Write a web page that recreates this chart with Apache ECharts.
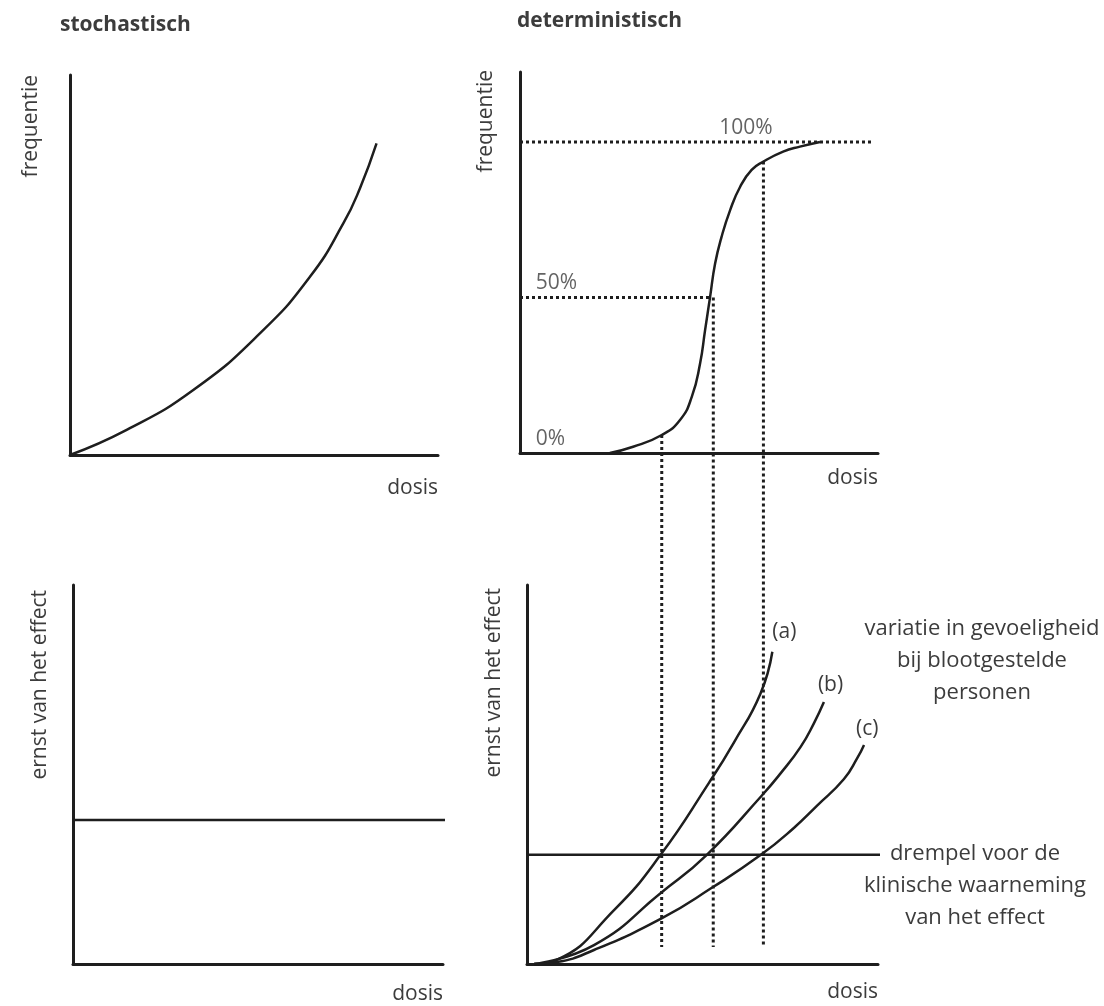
<!DOCTYPE html>
<html lang="nl">
<head>
<meta charset="UTF-8" />
<title>Dosis-effectrelaties</title>
<script src="https://cdn.jsdelivr.net/npm/echarts@6/dist/echarts.min.js"></script>
<style>
  html, body { margin: 0; padding: 0; background: #fff; }
  #chart { width: 1104px; height: 1006px; }
</style>
</head>
<body>
<div id="chart"></div>
<script>
// stochastisch effect: frequentie stijgt met de dosis
var stochDosis = [0, 15.4, 33.5, 51.6, 65.2, 74.3, 78.8, 83.3];
var stochFreq = [0, 6.6, 17.1, 32.0, 46.9, 61.0, 70.2, 82.0];

// deterministisch effect: S-curve (frequentie in %)
var detDosis = [25.1, 31.6, 39.6, 44.7, 48.0, 50.3, 51.7, 53.1, 54.5, 56.3, 58.7, 61.5, 64.7, 68.0, 73.5, 78.2, 83.8];
var detFreq = [0, 2.0, 5.8, 10.6, 18.1, 28.8, 39.5, 50.2, 60.9, 69.5, 78.1, 85.6, 91.0, 93.7, 96.9, 98.5, 100];

var pctWaarden = [0, 50, 100];
var pctLabels = ['0%', '50%', '100%'];
var pctEinde = [null, 53, 98.6];    // waar de stippellijn ophoudt

// dosis waarbij (a), (b) en (c) de drempel halen
var drempelDosis = [39.6, 54.0, 68.0];
var drempelFreq = [5.8, 50, 93.7];
var stippelOnder = 4.5;             // ernst waar de stippellijnen eindigen

// drempel voor de klinische waarneming
var drempelStoch = 38;
var drempelDet = 28.8;

// ernst van het effect voor drie personen
var curveNamen = ['(a)', '(b)', '(c)'];
var dosisA = [4, 10.3, 26.3, 39.3, 52.8, 59.8, 67.2, 70.5];
var ernstA = [0, 1.1, 14.2, 28.8, 47.8, 58.5, 71.4, 82.4];
var dosisB = [4, 20.7, 39.7, 52.2, 67.7, 72.8, 78.4, 82.1, 84.9];
var ernstB = [0, 5.0, 19.0, 28.8, 44.6, 50.3, 57.3, 63.5, 69.1];
var dosisC = [4, 10.3, 20.7, 39.7, 53.6, 67.3, 76.5, 83.0, 90.5, 94.2, 96.1];
var ernstC = [0, 0.5, 3.7, 12.1, 20.1, 28.8, 35.9, 41.8, 48.8, 54.3, 57.8];

var FONT = '"Open Sans", "DejaVu Sans", sans-serif';
var TEXT = '#3c3c3c';
var INK = '#1e1e1e';

function zip(xs, ys) {
    return xs.map(function (x, i) { return [x, ys[i]]; });
}

function xAs(grid, min, max, pad) {
    return {
        type: 'value', gridIndex: grid, min: min, max: max,
        axisLine: { onZero: false, lineStyle: { color: INK, width: 3 } },
        axisTick: { show: false }, axisLabel: { show: false }, splitLine: { show: false },
        name: 'dosis', nameLocation: 'end', nameGap: 0,
        nameTextStyle: { align: 'right', verticalAlign: 'top', padding: [pad, 0, 0, 0],
            fontSize: 21, color: TEXT, fontFamily: FONT }
    };
}

function yAs(grid, max, name, gap, shift) {
    return {
        type: 'value', gridIndex: grid, min: 0, max: max,
        axisLine: { onZero: false, lineStyle: { color: INK, width: 3 } },
        axisTick: { show: false }, axisLabel: { show: false }, splitLine: { show: false },
        name: name, nameLocation: 'end', nameGap: shift, nameRotate: 90,
        nameTextStyle: { align: 'right', verticalAlign: 'bottom', padding: [0, 0, gap, 0],
            fontSize: 21, color: TEXT, fontFamily: FONT }
    };
}

var hidden = { type: 'value', gridIndex: 4, min: 0, max: 100, show: false };
var dotted = { color: INK, width: 3, type: [3, 3] };
var curve = { color: INK, width: 2.5 };

var chart = echarts.init(document.getElementById('chart'));

var series = [
    { type: 'line', xAxisIndex: 0, yAxisIndex: 0, data: zip(stochDosis, stochFreq),
      smooth: 0.5, symbol: 'none', lineStyle: curve },

    { type: 'line', xAxisIndex: 1, yAxisIndex: 1, data: zip(detDosis, detFreq),
      smooth: 0.5, symbol: 'none', lineStyle: curve },
    { type: 'line', xAxisIndex: 1, yAxisIndex: 1, data: [[0, pctWaarden[1]], [pctEinde[1], pctWaarden[1]]],
      symbol: 'none', lineStyle: dotted },
    { type: 'line', xAxisIndex: 1, yAxisIndex: 1, data: [[0, pctWaarden[2]], [pctEinde[2], pctWaarden[2]]],
      symbol: 'none', lineStyle: dotted },
    { type: 'scatter', xAxisIndex: 1, yAxisIndex: 1, symbolSize: 1, silent: true,
      itemStyle: { color: 'rgba(0,0,0,0)' },
      data: pctWaarden.map(function (v, i) {
          return { value: [[3.4, 3.4, 54.7][i], v], name: pctLabels[i] };
      }),
      label: { show: true, position: 'insideBottomLeft', distance: 4, formatter: '{b}',
               fontSize: 21, color: TEXT, fontFamily: FONT } },

    { type: 'line', xAxisIndex: 2, yAxisIndex: 2, data: [[0, drempelStoch], [101, drempelStoch]],
      clip: false, symbol: 'none', lineStyle: curve },

    { type: 'line', xAxisIndex: 3, yAxisIndex: 3, data: [[2, drempelDet], [101, drempelDet]],
      clip: false, symbol: 'none', lineStyle: curve }
];

[[dosisA, ernstA, [0, -20]], [dosisB, ernstB, [-6, -17]], [dosisC, ernstC, [-8, -16]]].forEach(function (c, i) {
    series.push({
        type: 'line', xAxisIndex: 3, yAxisIndex: 3, data: zip(c[0], c[1]),
        smooth: 0.5, symbol: 'none', lineStyle: curve,
        endLabel: { show: true, formatter: curveNamen[i], distance: 0, offset: c[2],
                    fontSize: 21, color: TEXT, fontFamily: FONT }
    });
});

var option = {
    backgroundColor: '#fff',
    animation: false,
    title: [
        { text: 'stochastisch', left: 60, top: 15, padding: 0,
          textStyle: { fontSize: 21, fontWeight: 'bold', color: TEXT, fontFamily: FONT } },
        { text: 'deterministisch', left: 517, top: 11, padding: 0,
          textStyle: { fontSize: 21, fontWeight: 'bold', color: TEXT, fontFamily: FONT } }
    ],
    grid: [
        { left: 70, top: 75, width: 368, height: 380 },
        { left: 520, top: 72, width: 358, height: 381 },
        { left: 73, top: 585, width: 370, height: 379 },
        { left: 527, top: 585, width: 351, height: 379 },
        // onzichtbaar raster over de hele rechterkolom, voor de verticale stippellijnen
        { left: 520, top: 72, width: 358, height: 892 }
    ],
    xAxis: [xAs(0, 0, 100, 23), xAs(1, 0, 100, 15), xAs(2, 0, 100, 20), xAs(3, 2, 100, 18), hidden],
    yAxis: [
        yAs(0, 100, 'frequentie', 28, 0),
        yAs(1, 122.5, 'frequentie', 23, 2),
        yAs(2, 100, 'ernst van het effect', 22, -5),
        yAs(3, 100, 'ernst van het effect', 22, -3),
        hidden
    ],
    graphic: [
        { type: 'text', x: 982, y: 661, silent: true,
          style: { text: 'variatie in gevoeligheid\nbij blootgestelde\npersonen', align: 'center',
                   verticalAlign: 'middle', lineHeight: 32, fontSize: 22, fontFamily: FONT, fill: TEXT } },
        { type: 'text', x: 975, y: 886, silent: true,
          style: { text: 'drempel voor de\nklinische waarneming\nvan het effect', align: 'center',
                   verticalAlign: 'middle', lineHeight: 32, fontSize: 22, fontFamily: FONT, fill: TEXT } }
    ],
    series: series
};
chart.setOption(option);

// stippellijnen van de S-curve omlaag tot in het onderste paneel
drempelDosis.forEach(function (d, i) {
    var boven = chart.convertFromPixel({ gridIndex: 4 }, chart.convertToPixel({ gridIndex: 1 }, [d, drempelFreq[i]]));
    var onder = chart.convertFromPixel({ gridIndex: 4 }, chart.convertToPixel({ gridIndex: 3 }, [d, stippelOnder]));
    series.push({ type: 'line', xAxisIndex: 4, yAxisIndex: 4, silent: true,
                  data: [boven, onder], symbol: 'none', lineStyle: dotted });
});
chart.setOption({ series: series });
</script>
</body>
</html>
